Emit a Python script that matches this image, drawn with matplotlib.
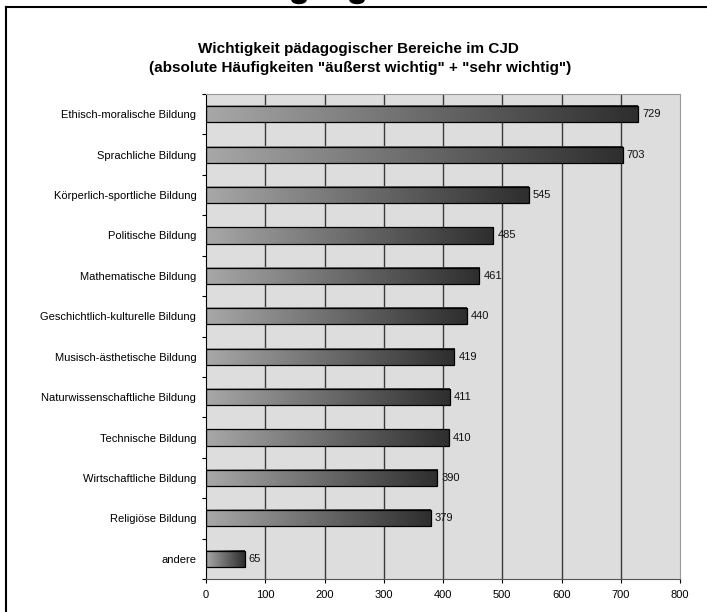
import matplotlib
matplotlib.use("Agg")
import matplotlib.pyplot as plt
import numpy as np
from matplotlib.colors import LinearSegmentedColormap
from matplotlib.lines import Line2D
from matplotlib.patches import Ellipse

categories = [
    "Ethisch-moralische Bildung",
    "Sprachliche Bildung",
    "Körperlich-sportliche Bildung",
    "Politische Bildung",
    "Mathematische Bildung",
    "Geschichtlich-kulturelle Bildung",
    "Musisch-ästhetische Bildung",
    "Naturwissenschaftliche Bildung",
    "Technische Bildung",
    "Wirtschaftliche Bildung",
    "Religiöse Bildung",
    "andere",
]
values = [729, 703, 545, 485, 461, 440, 419, 411, 410, 390, 379, 65]
xticks = [0, 100, 200, 300, 400, 500, 600, 700, 800]

plt.rcParams['font.family'] = ['Liberation Sans', 'DejaVu Sans']

fig = plt.figure(figsize=(7.07, 6.12), dpi=100)
W, H = 707, 612
ax = fig.add_axes([206 / W, 1 - 579 / H, (680 - 206) / W, (579 - 94) / H])
ax.set_facecolor('#dddddd')

n = len(categories)
ypos = np.arange(n)[::-1]
cmap = LinearSegmentedColormap.from_list('g', ['#a8a8a8', '#2e2e2e'])
grad = np.linspace(0, 1, 256).reshape(1, -1)
bh = 0.4

for x in xticks[1:-1]:
    ax.axvline(x, color='#3a3a3a', lw=1.0, zorder=1)

for y, v in zip(ypos, values):
    ax.imshow(grad, cmap=cmap, aspect='auto', extent=[0, v, y - bh / 2, y + bh / 2],
              zorder=2, interpolation='bicubic')
    ax.barh(y, v, height=bh, facecolor='none', edgecolor='black', lw=0.9, zorder=3)
    ax.text(v + 7, y, str(v), va='center', ha='left', fontsize=8, color='#111111', zorder=4)

ax.set_xlim(0, 800)
ax.set_ylim(-0.5, n - 0.5)
ax.set_xticks(xticks)
ax.set_xticklabels([str(t) for t in xticks], fontsize=8)
ax.set_yticks(ypos)
ax.set_yticklabels(categories, fontsize=8)
ax.tick_params(axis='y', length=0, pad=7)
ax.set_yticks(np.arange(-0.5, n, 1.0), minor=True)
ax.tick_params(axis='y', which='minor', length=3, width=0.8, color='black', direction='out')
ax.tick_params(axis='x', length=3, width=0.8, pad=5, direction='out')
for s in ['top', 'right']:
    ax.spines[s].set_color('#999999')
    ax.spines[s].set_linewidth(0.8)
ax.spines['left'].set_color('black')
ax.spines['bottom'].set_color('#555555')

fig.text(358 / W, 1 - 49 / H, "Wichtigkeit pädagogischer Bereiche im CJD", ha='center', va='center',
         fontsize=11, fontweight='bold')
fig.text(360 / W, 1 - 68 / H, '(absolute Häufigkeiten "äußerst wichtig" + "sehr wichtig")', ha='center',
         va='center', fontsize=11, fontweight='bold')

# frame of the surrounding document
fig.add_artist(Line2D([6 / W, 6 / W], [0, 1 - 7 / H], color='black', lw=1.5, transform=fig.transFigure))
fig.add_artist(Line2D([6 / W, 1], [1 - 7 / H, 1 - 7 / H], color='black', lw=1.5, transform=fig.transFigure))
# remnants of a cropped heading above the frame
for cx in (299, 357):
    fig.add_artist(Ellipse((cx / W, 1.0), 14 / W, 7 / H, color='black', transform=fig.transFigure))

fig.savefig("out.png", dpi=100)
